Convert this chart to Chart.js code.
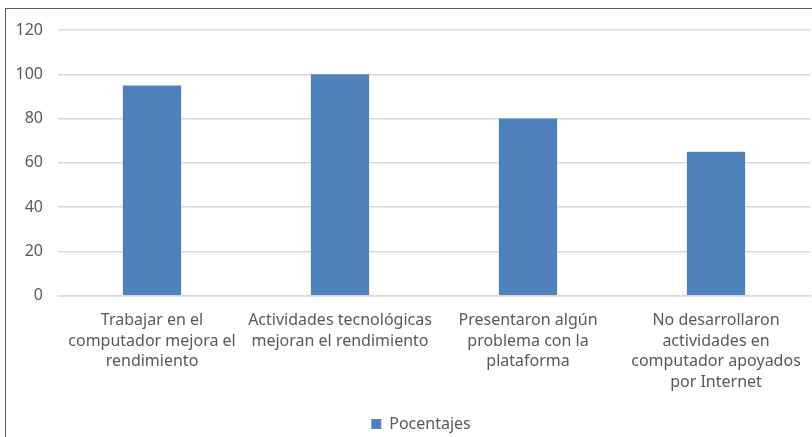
<!DOCTYPE html>
<html><head><meta charset="utf-8">
<script src="https://cdn.jsdelivr.net/npm/chart.js@4"></script>
<style>
html,body{margin:0;padding:0;background:#fff;}
#wrap{position:absolute;left:0;top:0;width:812px;height:437px;}
#frame{position:absolute;left:5px;top:8px;width:820px;height:440px;border-left:1.5px solid #5a5a5a;border-top:1.5px solid #5a5a5a;}
canvas{position:absolute;left:0;top:0;}
</style></head>
<body>
<div id="wrap"><div id="frame"></div><canvas id="c" width="812" height="437"></canvas></div>
<script>
const categories = [
  ["Trabajar en el", "computador mejora el", "rendimiento"],
  ["Actividades tecnológicas", "mejoran el rendimiento"],
  ["Presentaron algún", "problema con la", "plataforma"],
  ["No desarrollaron", "actividades en", "computador apoyados", "por Internet"]
];
const seriesName = "Pocentajes";
const values = [95, 100, 80, 65];
const yTicks = [0, 20, 40, 60, 80, 100, 120];

const font = "'Noto Sans', 'Open Sans', sans-serif";
const legendShift = {
  id: 'legendShift',
  afterLayout(chart) {
    const lg = chart.legend;
    if (lg) { lg.left += 16; lg.right += 16; }
  }
};
new Chart(document.getElementById('c'), {
  type: 'bar',
  data: { labels: categories, datasets: [{ label: seriesName, data: values, backgroundColor: '#4F81BD', barPercentage: 0.62, categoryPercentage: 0.5 }] },
  plugins: [legendShift],
  options: {
    responsive: false, animation: false, devicePixelRatio: 1,
    layout: { padding: { top: 30, right: 2, left: 0, bottom: -5 } },
    plugins: {
      legend: { position: 'bottom', labels: { boxWidth: 10, boxHeight: 10, color: '#595959', font: { family: font, size: 16 }, padding: 0 } },
      tooltip: { enabled: false }
    },
    scales: {
      x: { grid: { display: false }, border: { color: '#d9d9d9', width: 1.5 },
           afterFit: s => { s.height += 17; },
           ticks: { color: '#595959', font: { family: font, size: 16, lineHeight: 1.3 }, maxRotation: 0, autoSkip: false, padding: 6 } },
      y: { min: 0, max: 120, afterBuildTicks: s => { s.ticks = yTicks.map(v => ({ value: v })); },
           afterFit: s => { s.width = 58; },
           grid: { color: '#d9d9d9', lineWidth: 1.5, drawTicks: false }, border: { display: false },
           ticks: { color: '#595959', font: { family: font, size: 16 }, padding: 15 } }
    }
  }
});
</script>
</body></html>
